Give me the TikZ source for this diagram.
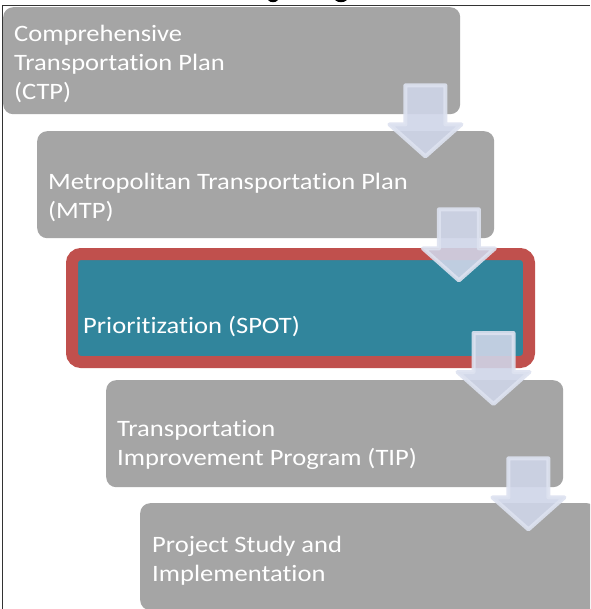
\documentclass[tikz,border=0pt]{standalone}
\usepackage{fontspec}
\setmainfont{Carlito}[FakeStretch=1.13, Ligatures=NoCommon]
\usetikzlibrary{calc}
\definecolor{boxgray}{HTML}{A5A5A5}
\definecolor{spotteal}{HTML}{31859C}
\definecolor{spotred}{HTML}{C0504D}
\definecolor{arrowfill}{HTML}{CFD5E8}
\definecolor{arrowedge}{HTML}{DDE2F0}
\definecolor{framecol}{HTML}{333333}
\tikzset{
  graybox/.style={fill=boxgray, rounded corners=10pt, minimum width=457pt, minimum height=107pt, inner sep=0pt, anchor=north west},
  spotbox/.style={fill=spotteal, draw=spotred, line width=12pt, rounded corners=9pt, minimum width=457pt, minimum height=108pt, inner sep=0pt, anchor=north west},
  lbl/.style={font=\fontsize{23.5}{29}\selectfont, text=white, inner sep=0pt, align=left, anchor=base west},
  arrowstyle/.style={fill=arrowfill, fill opacity=0.9, draw=arrowedge, draw opacity=0.9, line width=4pt, line join=round},
  pics/blockarrow/.style={code={
    \path[arrowstyle] (-20,2) -- (20,2) -- (20,41) -- (36,41) -- (0,73) -- (-36,41) -- (-20,41) -- cycle;
  }}
}
\begin{document}
\begin{tikzpicture}[x=1pt,y=-1pt]
\useasboundingbox (0,0) rectangle (590,609);
\clip (0,0) rectangle (590,609);
\fill[white] (0,0) rectangle (590,609);
% frame and cut-off letters above
\draw[framecol, line width=1.8pt] (2.5,609) -- (2.5,5.5) -- (590,5.5);
\fill[black] (268,0) .. controls (270,3) and (276,3) .. (278,0) -- cycle;
\fill[black] (335,0) .. controls (338,3) and (344,3) .. (347,0) -- cycle;
% boxes
\node[graybox] (b1) at (3,7) {};
\node[graybox] (b2) at (37,131) {};
\node[spotbox] (b3) at (66,248) {};
\node[graybox] (b4) at (106,380) {};
\node[graybox] (b5) at (140,503) {};
% texts (anchored at the baseline of the last line)
\node[lbl] (t1) at (14,100) {Comprehensive\\Transportation Plan\\(CTP)};
\node[lbl] (t2) at (48,219) {Metropolitan Transportation Plan\\(MTP)};
\node[lbl] (t3) at (83,333) {Prioritization (SPOT)};
\node[lbl] (t4) at (117,465) {Transportation\\Improvement Program (TIP)};
\node[lbl] (t5) at (152,581) {Project Study and\\Implementation};
% arrows
\pic (a1) at ($(b1.south east)+(-35,-31)$) {blockarrow};
\pic (a2) at ($(b2.south east)+(-35.5,-31)$) {blockarrow};
\pic (a3) at ($(b3.south east)+(-41.5,-37)$) {blockarrow};
\pic (a4) at ($(b4.south east)+(-35,-31)$) {blockarrow};
\end{tikzpicture}
\end{document}
